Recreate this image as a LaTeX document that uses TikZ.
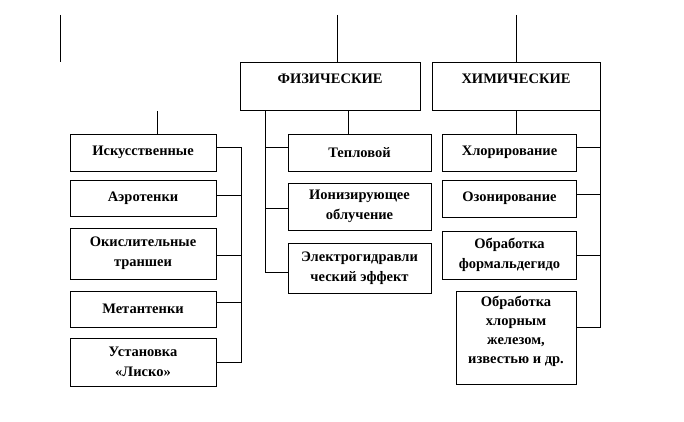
\documentclass[tikz,border=0pt]{standalone}
\usepackage{fontspec}
\setmainfont{Liberation Serif}
\begin{document}
\begin{tikzpicture}[x=1pt,y=-1pt,
  box/.style={draw,line width=0.8pt,inner sep=0pt,align=center,font=\fontsize{14.5}{20}\selectfont\bfseries},
  txt/.style={inner sep=0pt,align=center,font=\fontsize{14.5}{19}\selectfont\bfseries},
  ln/.style={line width=0.8pt}]
\useasboundingbox (0,0) rectangle (684,422);
% headers
\node[box,minimum width=180,minimum height=48] (fiz) at (330,86) {};
\node[txt] (fizt) at (330,79) {ФИЗИЧЕСКИЕ};
\node[box,minimum width=168,minimum height=48] (him) at (516,86) {};
\node[txt] (himt) at (516,79) {ХИМИЧЕСКИЕ};
% left column
\node[box,minimum width=146,minimum height=37] (isk) at (143,152.5) {Искусственные};
\node[box,minimum width=146,minimum height=36] (aer) at (143,198) {Аэротенки};
\node[box,minimum width=146,minimum height=51] (oks) at (143,253.5) {Окислительные\\траншеи};
\node[box,minimum width=146,minimum height=36] (met) at (143,309) {Метантенки};
\node[box,minimum width=146,minimum height=48] (ust) at (143,362) {Установка\\«Лиско»};
% physical column
\node[box,minimum width=143,minimum height=37] (tep) at (359.5,152.5) {Тепловой};
\node[box,minimum width=143,minimum height=47] (ion) at (359.5,206.5) {Ионизирующее\\облучение};
\node[box,minimum width=143,minimum height=50] (ele) at (359.5,268) {Электрогидравли\\ческий эффект};
% chemical column
\node[box,minimum width=134,minimum height=37] (hlo) at (509.5,152.5) {Хлорирование};
\node[box,minimum width=134,minimum height=37] (ozo) at (509.5,198.5) {Озонирование};
\node[box,minimum width=134,minimum height=48] (obf) at (509.5,255) {Обработка\\формальдегидо};
\node[box,minimum width=120,minimum height=93] (obh) at (516,337.5) {};
\node[txt] (obht) at (516,331.5) {Обработка\\хлорным\\железом,\\известью и др.};
% free top lines
\coordinate (t0a) at (60,15); \coordinate (t0b) at (60,62);
\coordinate (t1) at (337,15);
\coordinate (t2) at (516,15);
\coordinate (t3) at (157,111);
\draw[ln] (t0a) -- (t0b);
\draw[ln] (t1) -- (t1 |- fiz.north);
\draw[ln] (t2) -- (t2 |- him.north);
\draw[ln] (t3) -- (t3 |- isk.north);
% header to first child
\coordinate (pf) at (348,0);
\draw[ln] (pf |- fiz.south) -- (pf |- tep.north);
\draw[ln] (him.south) -- (hlo.north -| him.south);
% left bus
\coordinate (lb) at (241,0);
\draw[ln] ([yshift=5.5pt]isk.east) -- ([yshift=5.5pt]isk.east -| lb) -- (ust.east -| lb) -- (ust.east);
\draw[ln] ([yshift=3pt]aer.east) -- ([yshift=3pt]aer.east -| lb);
\draw[ln] ([yshift=-1.5pt]oks.east) -- ([yshift=-1.5pt]oks.east -| lb);
\draw[ln] ([yshift=7pt]met.east) -- ([yshift=7pt]met.east -| lb);
% physical bus
\coordinate (pb) at (265,0);
\draw[ln] (pb |- fiz.south) -- ([yshift=-4pt]ele.west -| pb) -- ([yshift=-4pt]ele.west);
\draw[ln] ([yshift=5.5pt]tep.west -| pb) -- ([yshift=5.5pt]tep.west);
\draw[ln] ([yshift=-1.5pt]ion.west -| pb) -- ([yshift=-1.5pt]ion.west);
% chemical bus
\draw[ln] (him.south east) -- ([yshift=10.5pt]obh.east -| him.east) -- ([yshift=10.5pt]obh.east);
\draw[ln] ([yshift=5.5pt]hlo.east) -- ([yshift=5.5pt]hlo.east -| him.east);
\draw[ln] ([yshift=4.5pt]ozo.east) -- ([yshift=4.5pt]ozo.east -| him.east);
\draw[ln] (obf.east) -- (obf.east -| him.east);
\end{tikzpicture}
\end{document}
